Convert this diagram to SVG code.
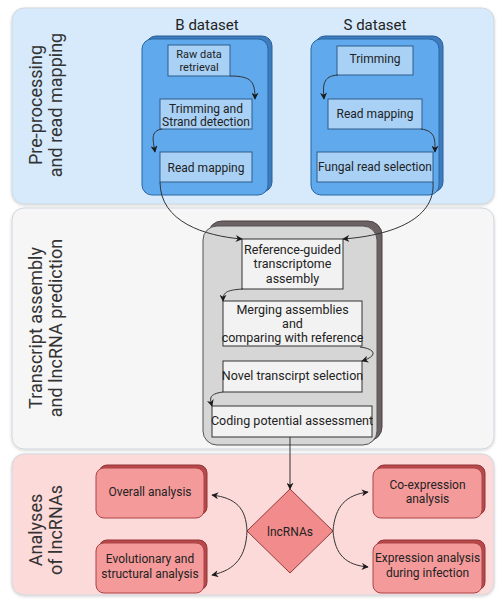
<svg xmlns="http://www.w3.org/2000/svg" width="497" height="599" viewBox="0 0 497 599">
<defs>
<marker id="ah" viewBox="0 0 10 10" refX="9" refY="5" markerWidth="7" markerHeight="7" orient="auto" markerUnits="userSpaceOnUse">
<path d="M0,0 L10,5 L0,10 L3,5 Z" fill="#1a1a1a"/>
</marker>
<filter id="sh" x="-5%" y="-5%" width="110%" height="110%">
<feDropShadow dx="0" dy="1" stdDeviation="1.5" flood-color="#000" flood-opacity="0.18"/>
</filter>
</defs>
<style>
text{font-family:Roboto,"Liberation Sans",Arial,sans-serif;fill:#222;text-anchor:middle}
.t{font-size:12px}
.s{font-size:11px}
.m{font-size:12.5px}
.h{font-size:15px}
.p{font-size:18px;fill:#333}
.panel{stroke:#cfd6dd;stroke-width:1}
.bshadow{fill:#3d7cbf;stroke:#2a5f94;stroke-width:1}
.bcont{fill:#5fa9ec;stroke:#2a66a2;stroke-width:1}
.bbox{fill:#a9d1f6;stroke:#2e5c8a;stroke-width:1}
.gshadow{fill:#6c6163;stroke:#4a4345;stroke-width:1}
.gcont{fill:#d6d6d6;stroke:#555;stroke-width:1}
.gbox{fill:#f2f2f2;stroke:#333;stroke-width:1}
.rshadow{fill:#b9484b;stroke:#903436;stroke-width:1}
.rbox{fill:#f59a9a;stroke:#a94446;stroke-width:1}
.c{fill:none;stroke:#333;stroke-width:1;marker-end:url(#ah)}
</style>

<g id="panel-top">
<rect class="panel" x="12" y="8" width="482" height="196" rx="12" fill="#d6eafc" filter="url(#sh)"/>
<text class="p" transform="translate(42,105) rotate(-90)">Pre-processing</text>
<text class="p" transform="translate(62,105) rotate(-90)">and read mapping</text>
</g>
<g id="panel-middle">
<rect class="panel" x="12" y="208" width="482" height="241" rx="12" fill="#f6f6f6" filter="url(#sh)"/>
<text class="p" transform="translate(42,328) rotate(-90)">Transcript assembly</text>
<text class="p" transform="translate(62,328) rotate(-90)">and lncRNA prediction</text>
</g>
<g id="panel-bottom">
<rect class="panel" x="12" y="454" width="482" height="141" rx="12" fill="#fddada" filter="url(#sh)"/>
<text class="p" transform="translate(42,530) rotate(-90)">Analyses</text>
<text class="p" transform="translate(62,530) rotate(-90)">of lncRNAs</text>
</g>

<g id="b-dataset">
<text class="h" x="207" y="30">B dataset</text>
<rect class="bshadow" x="146" y="36" width="126" height="156" rx="10"/>
<rect class="bcont" x="142" y="39" width="126" height="156" rx="10"/>
</g>
<g id="s-dataset">
<text class="h" x="375" y="30">S dataset</text>
<rect class="bshadow" x="315" y="36" width="128" height="156" rx="10"/>
<rect class="bcont" x="311" y="39" width="128" height="156" rx="10"/>
</g>

<g id="raw-data">
<rect class="bbox" x="168" y="45" width="62" height="31"/>
<text class="s" x="199" y="58">Raw data</text>
<text class="s" x="199" y="71">retrieval</text>
</g>
<g id="trim-strand">
<rect class="bbox" x="160" y="99" width="92" height="30"/>
<text class="t" x="206" y="113">Trimming and</text>
<text class="t" x="206" y="126">Strand detection</text>
</g>
<g id="read-mapping-b">
<rect class="bbox" x="160" y="152" width="92" height="30"/>
<text class="t" x="206" y="172">Read mapping</text>
</g>
<g id="trimming-s">
<rect class="bbox" x="337" y="46" width="76" height="29"/>
<text class="t" x="375" y="63">Trimming</text>
</g>
<g id="read-mapping-s">
<rect class="bbox" x="328" y="99" width="94" height="30"/>
<text class="t" x="375" y="118">Read mapping</text>
</g>
<g id="fungal">
<rect class="bbox" x="317" y="152" width="116" height="30"/>
<text class="t" x="375" y="171">Fungal read selection</text>
</g>

<g id="assembly-container">
<rect class="gshadow" x="208" y="221" width="174" height="220" rx="14"/>
<rect class="gcont" x="203" y="226" width="174" height="219" rx="14"/>
</g>
<g id="ref-guided">
<rect class="gbox" x="242" y="239" width="101" height="50"/>
<text class="m" x="292.5" y="254">Reference-guided</text>
<text class="m" x="292.5" y="268">transcriptome</text>
<text class="m" x="292.5" y="283">assembly</text>
</g>
<g id="merging">
<rect class="gbox" x="223" y="301" width="139" height="45"/>
<text class="m" x="292.5" y="314">Merging assemblies</text>
<text class="m" x="292.5" y="328">and</text>
<text class="m" x="292.5" y="342">comparing with reference</text>
</g>
<g id="novel">
<rect class="gbox" x="223" y="361" width="139" height="31"/>
<text class="m" x="292.5" y="380">Novel transcirpt selection</text>
</g>
<g id="coding">
<rect class="gbox" x="212" y="406" width="160" height="31"/>
<text class="m" x="292" y="425">Coding potential assessment</text>
</g>

<g id="overall">
<rect class="rshadow" x="99" y="465" width="108" height="50" rx="8"/>
<rect class="rbox" x="96" y="468" width="108" height="50" rx="8"/>
<text class="t" x="150" y="496">Overall analysis</text>
</g>
<g id="evolutionary">
<rect class="rshadow" x="99" y="540" width="108" height="50" rx="8"/>
<rect class="rbox" x="96" y="543" width="108" height="50" rx="8"/>
<text class="t" x="150" y="563">Evolutionary and</text>
<text class="t" x="150" y="578">structural analysis</text>
</g>
<g id="coexpression">
<rect class="rshadow" x="376" y="465" width="109" height="50" rx="8"/>
<rect class="rbox" x="373" y="468" width="109" height="50" rx="8"/>
<text class="t" x="427.5" y="489">Co-expression</text>
<text class="t" x="427.5" y="503">analysis</text>
</g>
<g id="expression">
<rect class="rshadow" x="376" y="540" width="109" height="50" rx="8"/>
<rect class="rbox" x="373" y="543" width="109" height="50" rx="8"/>
<text class="t" x="427.5" y="562">Expression analysis</text>
<text class="t" x="427.5" y="577">during infection</text>
</g>
<g id="lncrnas">
<polygon points="290,489 333,531 290,573 247,531" fill="#f28c8c" stroke="#8f3b3b" stroke-width="1"/>
<text class="t" x="290" y="536">lncRNAs</text>
</g>

<g id="connectors">
<path class="c" d="M230,76 C252,76 255,82 255,99"/>
<path class="c" d="M162,129 C150,131 153,140 155,152"/>
<path class="c" d="M338,75 C322,76 323,86 324,99"/>
<path class="c" d="M421,129 C436,131 435,140 435,152"/>
<path class="c" d="M160,182 C160,222 205,236 242,239"/>
<path class="c" d="M433,182 C436,222 385,236 343,239"/>
<path class="c" d="M243,289 C225,290 223,293 223,301"/>
<path class="c" d="M360,347 C376,349 378,356 362,361"/>
<path class="c" d="M223,392 C208,394 210,399 212,406"/>
<path class="c" d="M290,437 L290,489"/>
<path class="c" d="M247,531 C246,508 236,498 212,495"/>
<path class="c" d="M247,531 C246,556 236,570 212,575"/>
<path class="c" d="M333,531 C335,506 346,495 368,492"/>
<path class="c" d="M333,531 C335,555 346,565 368,567"/>
</g>
</svg>
